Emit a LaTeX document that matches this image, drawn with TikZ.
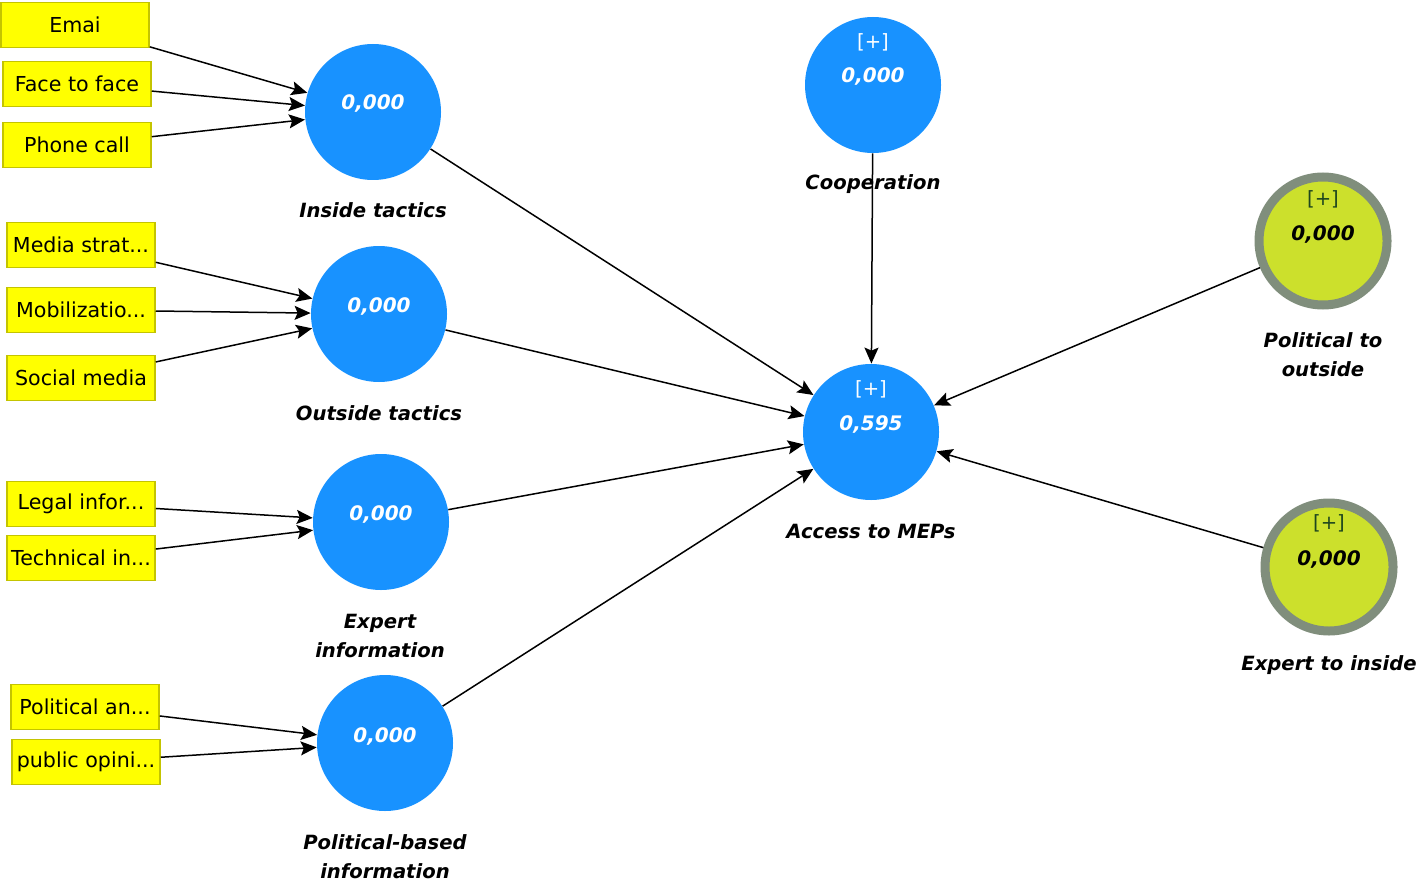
\documentclass[tikz,border=0pt]{standalone}
\usepackage{fontspec}
\setmainfont{DejaVu Sans}
\usetikzlibrary{arrows.meta}
\definecolor{nodeblue}{RGB}{24,146,255}
\definecolor{boxyellow}{RGB}{255,255,0}
\definecolor{boxborder}{RGB}{196,196,0}
\definecolor{lvgreen}{RGB}{204,224,44}
\definecolor{lvring}{RGB}{128,142,124}
\definecolor{plusgreen}{RGB}{30,70,30}
\begin{document}
\begin{tikzpicture}[x=0.5pt,y=-0.5pt,
  ind/.style={draw=boxborder, line width=0.75pt, fill=boxyellow, minimum width=74pt, minimum height=22.5pt, inner sep=0pt, font=\fontsize{10.3}{12}\selectfont},
  lv/.style={circle, fill=nodeblue, minimum size=68pt, inner sep=0pt},
  lvg/.style={circle, fill=lvgreen, draw=lvring, line width=4.5pt, minimum size=64pt, inner sep=0pt},
  val/.style={text=white, font=\fontsize{10}{11}\selectfont\bfseries\itshape, inner sep=0pt},
  valg/.style={text=black, font=\fontsize{10}{11}\selectfont\bfseries\itshape, inner sep=0pt},
  plus/.style={text=white, font=\fontsize{9.8}{11}\selectfont, inner sep=0pt},
  plusg/.style={text=plusgreen, font=\fontsize{9.8}{11}\selectfont, inner sep=0pt},
  lbl/.style={font=\fontsize{9.8}{14.5}\selectfont\bfseries\itshape, align=center, inner sep=0pt},
  arr/.style={-{Stealth[length=8pt,width=7pt,inset=1.5pt]}, line width=0.75pt, draw=black}
]
\fill[white] (0,0) rectangle (1416,882);
\useasboundingbox (0,0) rectangle (1416,882);

% indicators
\node[ind] (i1) at (75,25) {Emai};
\node[ind] (i2) at (77,84) {Face to face};
\node[ind] (i3) at (77,145) {Phone call};
\node[ind] (i4) at (81,245) {Media strat...};
\node[ind] (i5) at (81,310) {Mobilizatio...};
\node[ind] (i6) at (81,378) {Social media};
\node[ind] (i7) at (81,504) {Legal infor...};
\node[ind] (i8) at (81,558) {Technical in...};
\node[ind] (i9) at (85,707) {Political an...};
\node[ind] (i10) at (86,762) {public opini...};

% constructs
\node[lv] (c1) at (373,112) {};
\node[lv] (c2) at (379,314) {};
\node[lv] (c3) at (381,522) {};
\node[lv] (c4) at (385,743) {};
\node[lv] (c5) at (873,85) {};
\node[lv] (c6) at (871,432) {};
\node[lvg] (c7) at (1323,241) {};
\node[lvg] (c8) at (1329,567) {};

% values
\node[val] (v1) at (373,104) {0,000};
\node[val] (v2) at (379,306) {0,000};
\node[val] (v3) at (381,514) {0,000};
\node[val] (v4) at (385,736) {0,000};
\node[plus] (p5) at (873,42) {[+]};
\node[val] (v5) at (873,77) {0,000};
\node[plus] (p6) at (871,389) {[+]};
\node[val] (v6) at (871,424) {0,595};
\node[plusg] (p7) at (1323,199) {[+]};
\node[valg] (v7) at (1323,234) {0,000};
\node[plusg] (p8) at (1329,523) {[+]};
\node[valg] (v8) at (1329,559) {0,000};

% connectors
\foreach \i in {1,2,3} \draw[arr] (i\i) -- (c1);
\foreach \i in {4,5,6} \draw[arr] (i\i) -- (c2);
\foreach \i in {7,8} \draw[arr] (i\i) -- (c3);
\foreach \i in {9,10} \draw[arr] (i\i) -- (c4);
\foreach \i in {1,2,3,4,5,7,8} \draw[arr] (c\i) -- (c6);

% labels
\node[lbl] (l1) at (373,210) {Inside tactics};
\node[lbl] (l2) at (379,413) {Outside tactics};
\node[lbl] (l3) at (380,636) {Expert\\information};
\node[lbl] (l4) at (385,857) {Political-based\\information};
\node[lbl] (l5) at (873,184) {Cooperation};
\node[lbl] (l6) at (871,531) {Access to MEPs};
\node[lbl] (l7) at (1323,355) {Political to\\outside};
\node[lbl] (l8) at (1329,665) {Expert to inside};
\end{tikzpicture}
\end{document}
